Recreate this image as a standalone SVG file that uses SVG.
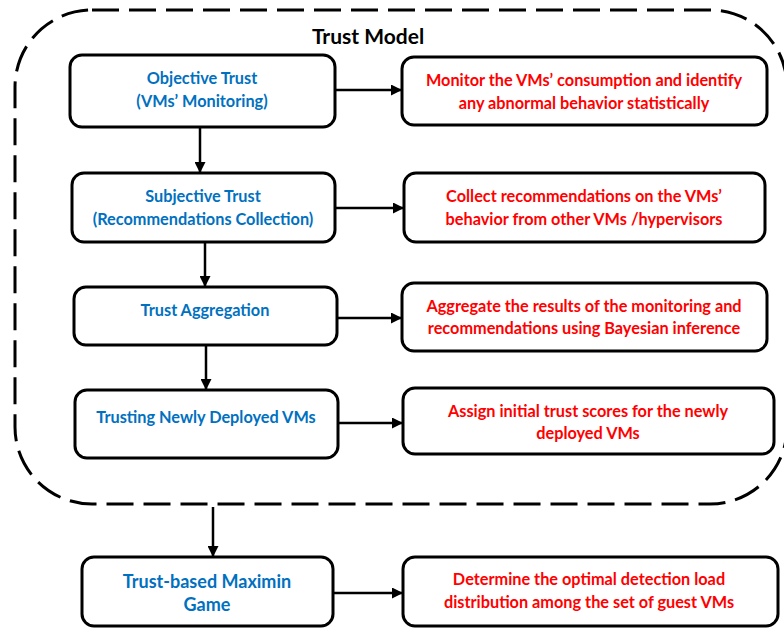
<svg xmlns="http://www.w3.org/2000/svg" width="784" height="628" viewBox="0 0 784 628">
<style>
.box{fill:#fff;stroke:#000;stroke-width:3}
.lt{font-family:Lato,"Open Sans","Liberation Sans",sans-serif;font-weight:bold;font-size:16.3px;fill:#0070C0;text-anchor:middle}
.rt{font-family:Lato,"Open Sans","Liberation Sans",sans-serif;font-weight:bold;font-size:16.3px;fill:#FF0000;text-anchor:middle}
.ttl{font-family:Lato,"Open Sans","Liberation Sans",sans-serif;font-weight:bold;font-size:21px;fill:#000;text-anchor:middle}
.con{stroke:#000;stroke-width:2.5;fill:none;marker-end:url(#ah)}
</style>
<defs>
<marker id="ah" viewBox="0 0 10 10" refX="10" refY="5" markerWidth="4.4" markerHeight="4.4" markerUnits="strokeWidth" orient="auto">
<path d="M0,0 L10,5 L0,10 z" fill="#000"/>
</marker>
</defs>
<rect width="784" height="628" fill="#fff"/>
<g id="trust-model">
<rect x="15" y="10" width="772" height="494" rx="77" ry="77" fill="none" stroke="#000" stroke-width="3" stroke-dasharray="27,10"/>
<text class="ttl" x="368" y="44">Trust Model</text>
</g>
<g id="connectors">
<line class="con" x1="200" y1="127" x2="200" y2="173"/>
<line class="con" x1="205" y1="242" x2="205" y2="287"/>
<line class="con" x1="206" y1="345" x2="206" y2="390"/>
<line class="con" x1="213" y1="507" x2="213" y2="557"/>
<line class="con" x1="335" y1="90" x2="402" y2="90"/>
<line class="con" x1="335" y1="208" x2="404" y2="208"/>
<line class="con" x1="337" y1="318" x2="402" y2="318"/>
<line class="con" x1="338" y1="423" x2="403" y2="423"/>
<line class="con" x1="333" y1="593" x2="403" y2="593"/>
</g>
<g id="objective-trust">
<rect class="box" x="70" y="55" width="265" height="72" rx="12"/>
<text class="lt" x="202" y="84">Objective Trust</text>
<text class="lt" x="202" y="107">(VMs’ Monitoring)</text>
</g>
<g id="subjective-trust">
<rect class="box" x="72" y="173" width="263" height="69" rx="12"/>
<text class="lt" x="203" y="202">Subjective Trust</text>
<text class="lt" x="203" y="225">(Recommendations Collection)</text>
</g>
<g id="trust-aggregation">
<rect class="box" x="74" y="287" width="263" height="58" rx="12"/>
<text class="lt" x="205" y="316">Trust Aggregation</text>
</g>
<g id="trusting-newly">
<rect class="box" x="75" y="390" width="263" height="68" rx="12"/>
<text class="lt" x="206" y="423">Trusting Newly Deployed VMs</text>
</g>
<g id="maximin-game">
<rect class="box" x="82" y="557" width="251" height="69" rx="12"/>
<text class="lt" x="207" y="588" style="font-size:18px">Trust-based Maximin</text>
<text class="lt" x="207" y="611" style="font-size:18px">Game</text>
</g>
<g id="monitor-desc">
<rect class="box" x="402" y="57" width="365" height="68" rx="12"/>
<text class="rt" x="584" y="86">Monitor the VMs’ consumption and identify</text>
<text class="rt" x="584" y="109">any abnormal behavior statistically</text>
</g>
<g id="collect-desc">
<rect class="box" x="404" y="173" width="361" height="69" rx="12"/>
<text class="rt" x="584" y="202">Collect recommendations on the VMs’</text>
<text class="rt" x="584" y="225">behavior from other VMs /hypervisors</text>
</g>
<g id="aggregate-desc">
<rect class="box" x="402" y="283" width="365" height="68" rx="12"/>
<text class="rt" x="584" y="312">Aggregate the results of the monitoring and</text>
<text class="rt" x="584" y="334">recommendations using Bayesian inference</text>
</g>
<g id="assign-desc">
<rect class="box" x="403" y="388" width="371" height="66" rx="12"/>
<text class="rt" x="588" y="417">Assign initial trust scores for the newly</text>
<text class="rt" x="588" y="439">deployed VMs</text>
</g>
<g id="determine-desc">
<rect class="box" x="403" y="557" width="375" height="69" rx="12"/>
<text class="rt" x="589" y="585">Determine the optimal detection load</text>
<text class="rt" x="589" y="608">distribution among the set of guest VMs</text>
</g>
</svg>
